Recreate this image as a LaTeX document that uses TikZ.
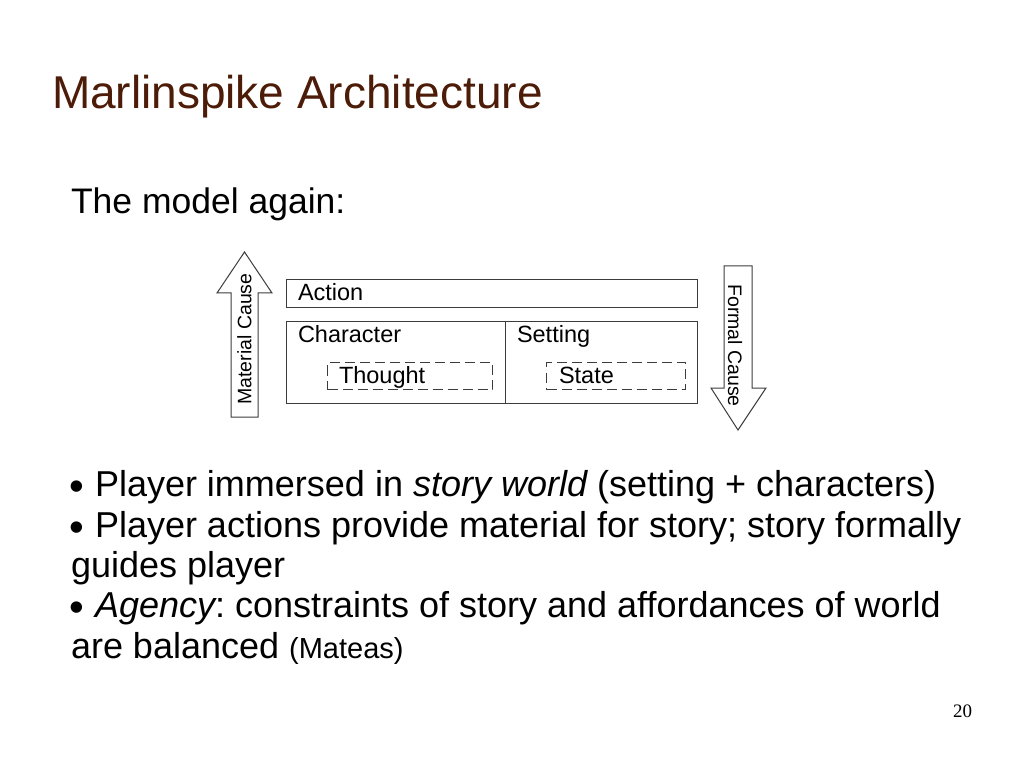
\documentclass[tikz,border=0pt]{standalone}
\usepackage{fontspec}
\setmainfont{Liberation Sans}
\newfontfamily\serifnum{Liberation Serif}
\definecolor{titlebrown}{RGB}{77,28,8}
\definecolor{linegray}{RGB}{60,60,60}
\frenchspacing
\begin{document}
\begin{tikzpicture}[x=1pt,y=-1pt,
  lbl/.style={inner sep=0pt, outer sep=0pt, anchor=base west},
  diag/.style={lbl, font=\fontsize{23.5}{23.5}\selectfont},
  body/.style={lbl, font=\fontsize{36}{36}\selectfont},
  boxd/.style={draw=linegray, line width=1pt, inner sep=0pt, anchor=north west},
  dboxd/.style={boxd, dash pattern=on 10pt off 5pt},
  arrowshape/.style={draw=linegray, line width=1pt, fill=white, line join=miter},
  bul/.style={inner sep=0pt, anchor=center, font=\fontsize{42}{42}\selectfont}
]
\fill[white] (0,0) rectangle (1023,767);
\path[use as bounding box] (0,0) rectangle (1023,767);

% title
\node[lbl, text=titlebrown, font=\fontsize{46}{46}\selectfont] (title) at (52,109) {Marlinspike Architecture};
\node[lbl, font=\fontsize{35.5}{35.5}\selectfont] (intro) at (71,214) {The model again:};

% diagram boxes
\node[boxd, minimum width=411pt, minimum height=28pt] (action) at (286,279) {};
\node[boxd, minimum width=411pt, minimum height=82pt] (lower) at (286,321) {};
\draw[draw=linegray, line width=1pt] (lower.north west) ++(219,0) coordinate (divtop) -- (divtop |- lower.south);
\node[dboxd, minimum width=165pt, minimum height=27pt] (thought) at (327,362) {};
\node[dboxd, minimum width=139pt, minimum height=27pt] (state) at (546,362) {};

\node[diag] (actionlbl) at (298,301) {Action};
\node[diag] (charlbl) at (298,342) {Character};
\node[diag] (setlbl) at (517,342) {Setting};
\node[diag] (thoughtlbl) at (339,384) {Thought};
\node[diag] (statelbl) at (559,384) {State};

% arrows
\draw[arrowshape] (231,417) -- (231,293) -- (217,293) -- (244.5,252) -- (272,293) -- (258,293) -- (258,417) -- cycle;
\node[inner sep=0pt, rotate=90, font=\fontsize{19.5}{19.5}\selectfont] (matcause) at (244.5,339) {Material Cause};
\draw[arrowshape] (724,266) -- (752,266) -- (752,388) -- (766,388) -- (738,430) -- (711,388) -- (724,388) -- cycle;
\node[inner sep=0pt, rotate=-90, font=\fontsize{19.5}{19.5}\selectfont] (formcause) at (735,345.5) {Formal Cause};

% bullets
\node[bul] (b1) at (77,491) {•};
\node[body] (l1) at (95,496) {Player immersed in {\itshape story world} (setting + characters)};
\node[bul] (b2) at (77,532) {•};
\node[body] (l2) at (95,537) {Player actions provide material for story; story formally};
\node[body] (l3) at (71,577) {guides player};
\node[bul] (b3) at (77,612) {•};
\node[body] (l4) at (95,617) {{\itshape Agency}: constraints of story and affordances of world};
\node[body] (l5) at (71,658) {are balanced {\fontsize{29}{29}\selectfont(Mateas)}};

\node[lbl, font=\serifnum\fontsize{19}{19}\selectfont] (pagenum) at (953,717) {20};
\end{tikzpicture}
\end{document}
